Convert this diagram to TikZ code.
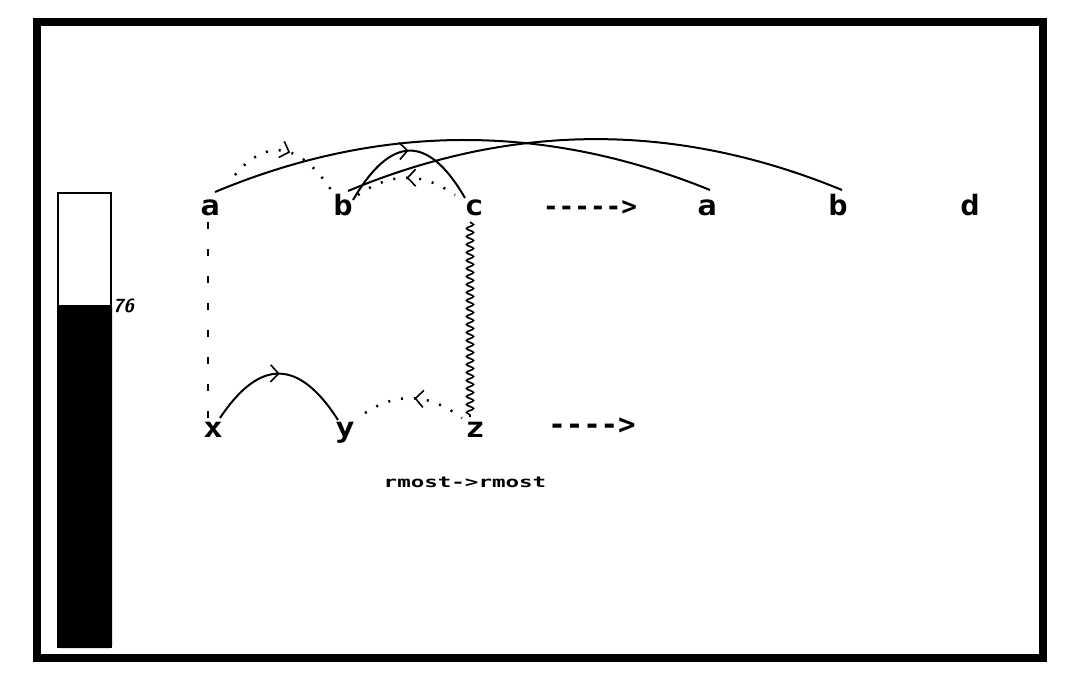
\documentclass[tikz,border=0pt]{standalone}
\usepackage{fontspec}
\setmonofont{DejaVu Sans Mono}
\usetikzlibrary{arrows.meta,decorations.markings,decorations.pathmorphing}
\tikzset{
  lett/.style={font=\fontsize{28}{28}\selectfont\ttfamily\bfseries, inner sep=0pt, anchor=base},
  rew/.style={font=\fontsize{26}{26}\selectfont\ttfamily\bfseries, inner sep=0pt, anchor=base},
  arc/.style={line width=2pt},
  dotarc/.style={line width=2.5pt, dash pattern=on 2pt off 11pt},
  midarrow/.style={postaction={decorate}, decoration={markings,
    mark=at position 0.5 with {\arrow[line width=1.6pt, solid]{Straight Barb[length=8pt,width=17pt]}}}},
  midarrowrev/.style={postaction={decorate}, decoration={markings,
    mark=at position 0.5 with {\arrowreversed[line width=1.6pt, solid]{Straight Barb[length=8pt,width=17pt]}}}},
}
\newcommand{\wide}[1]{\scalebox{1.15}[1]{#1}}
\begin{document}
\begin{tikzpicture}[x=1pt,y=-1pt]
\useasboundingbox (0,0) rectangle (1092,698);
% frame
\draw[line width=8.5pt] (37,22) rectangle (1043,658);
% gauge
\fill[black, rounded corners=2pt] (58,305) rectangle (112,648);
\draw[line width=2pt] (58,648) -- (58,193) -- (111,193) -- (111,648);
\node[font=\fontsize{19}{19}\selectfont\sffamily\bfseries\itshape, anchor=west, inner sep=0pt] (lvl) at (113,306) {76};
% nodes
\node[lett] (a1) at (210,215) {\wide{a}};
\node[lett] (b1) at (343,215) {\wide{b}};
\node[lett] (c1) at (474,215) {\wide{c}};
\node[rew] (r1) at (590,215) {----->};
\node[lett] (a2) at (707,215) {\wide{a}};
\node[lett] (b2) at (838,215) {\wide{b}};
\node[lett] (d2) at (970,215) {\wide{d}};
\node[lett] (x1) at (213,437) {\wide{x}};
\node[lett] (y1) at (345,437) {\wide{y}};
\node[lett] (z1) at (475,437) {\wide{z}};
\node[font=\fontsize{29}{29}\selectfont\ttfamily\bfseries, inner sep=0pt, anchor=base] (r2) at (592,434) {---->};
\node[font=\fontsize{15}{15}\selectfont\ttfamily\bfseries, inner sep=0pt, anchor=base] (lab) at (465,487) {\scalebox{1.5}[1]{rmost->rmost}};
% long arcs
\draw[arc] ([shift={(5,-23)}]a1.base) .. controls (380,123) and (545,123) .. ([shift={(3,-25)}]a2.base);
\draw[arc] ([shift={(5,-24)}]b1.base) .. controls (513,122) and (677,122) .. ([shift={(4,-25)}]b2.base);
% short arcs
\draw[arc, midarrow] ([shift={(10,-15)}]b1.base) .. controls (391,135) and (428,134) .. ([shift={(-9,-17)}]c1.base);
\draw[dotarc, midarrowrev] ([shift={(15,-20)}]b1.base) .. controls (391,172) and (423,172) .. ([shift={(-19,-20)}]c1.base);
\draw[dotarc, midarrow] ([shift={(25,-40)}]a1.base) .. controls (268,136) and (302,143) .. ([shift={(-8,-19)}]b1.base);
\draw[arc, midarrow] ([shift={(7,-19)}]x1.base) .. controls (260,358) and (299,359) .. ([shift={(-7,-17)}]y1.base);
\draw[dotarc, midarrowrev] ([shift={(20,-24)}]y1.base) .. controls (397,392) and (429,393) .. ([shift={(-13,-19)}]z1.base);
% vertical links
\draw[line width=2pt, dash pattern=on 7pt off 20pt] ([shift={(-2,7)}]a1.base) -- ([shift={(-5,-19)}]x1.base);
\draw[line width=1.6pt, decorate, decoration={snake, segment length=8pt, amplitude=3.5pt}] ([shift={(-4,7)}]c1.base) -- ([shift={(-5,-20)}]z1.base);
\end{tikzpicture}
\end{document}
